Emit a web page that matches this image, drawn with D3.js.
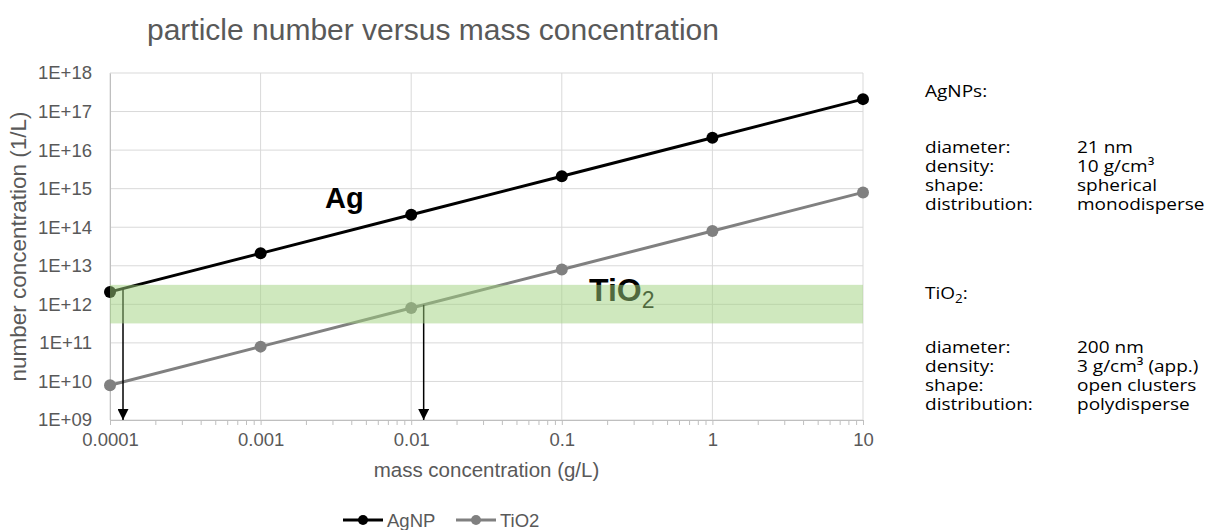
<!DOCTYPE html>
<html>
<head>
  <meta charset="utf-8">
  <style>
    body { margin: 0; background: #fff; }
    text { font-family: "Liberation Sans", Arial, sans-serif; }
    .info text { font-family: "Open Sans", sans-serif; font-size: 17px; fill: #000; }
  </style>
  <script src="https://cdn.jsdelivr.net/npm/d3@7"></script>
</head>
<body>
<script>
  // data
  var massConc = [0.0001, 0.001, 0.01, 0.1, 1, 10];
  var agnp = [2.1e12, 2.1e13, 2.1e14, 2.1e15, 2.1e16, 2.1e17];
  var tio2 = [8e9, 8e10, 8e11, 8e12, 8e13, 8e14];
  var yTicks = [1e9, 1e10, 1e11, 1e12, 1e13, 1e14, 1e15, 1e16, 1e17, 1e18];
  var band = [3.2e11, 3.2e12];
  var arrows = [{x: 1.22e-4, from: 2.5e12}, {x: 0.0121, from: 9.7e11}];
  var infoAg = [["diameter:", "21 nm"], ["density:", "10 g/cm\u00b3"], ["shape:", "spherical"], ["distribution:", "monodisperse"]];
  var infoTi = [["diameter:", "200 nm"], ["density:", "3 g/cm\u00b3 (app.)"], ["shape:", "open clusters"], ["distribution:", "polydisperse"]];

  var W = 1209, H = 530;
  var pLeft = 110, pRight = 863, pTop = 73, pBottom = 420;

  var svg = d3.select("body").append("svg").attr("width", W).attr("height", H);

  var x = d3.scaleLog().domain([1e-4, 10]).range([pLeft, pRight]);
  var y = d3.scaleLog().domain([1e9, 1e18]).range([pBottom, pTop]);

  // title
  svg.append("text").attr("x", 147).attr("y", 40)
    .attr("font-size", 30).attr("fill", "#595959")
    .text("particle number versus mass concentration");

  // gridlines
  svg.append("g").selectAll("line").data(yTicks).enter().append("line")
    .attr("x1", pLeft).attr("x2", pRight)
    .attr("y1", function(d) { return y(d); }).attr("y2", function(d) { return y(d); })
    .attr("stroke", "#d9d9d9").attr("stroke-width", 1);
  svg.append("g").selectAll("line").data(massConc).enter().append("line")
    .attr("y1", pTop).attr("y2", pBottom)
    .attr("x1", function(d) { return x(d); }).attr("x2", function(d) { return x(d); })
    .attr("stroke", "#d9d9d9").attr("stroke-width", 1);

  // x axis with minor log ticks
  var minor = [];
  massConc.slice(0, -1).forEach(function(d) {
    for (var k = 1; k <= 9; k++) minor.push(d * k);
  });
  minor.push(10);
  function isMajor(d) {
    return massConc.some(function(m) { return Math.abs(m - d) / m < 1e-9; });
  }
  var xAxis = svg.append("g").attr("transform", "translate(0," + pBottom + ")")
    .call(d3.axisBottom(x).tickValues(minor).tickSize(5).tickPadding(8)
      .tickFormat(function(d) { return isMajor(d) ? String(+d.toPrecision(1)) : ""; }));
  xAxis.select(".domain").attr("stroke", "#bfbfbf");
  xAxis.selectAll(".tick line").attr("stroke", "#bfbfbf");
  xAxis.selectAll(".tick text").attr("font-size", 18.5).attr("fill", "#595959");

  // y axis
  var yAxis = svg.append("g").attr("transform", "translate(" + pLeft + ",0)")
    .call(d3.axisLeft(y).tickValues(yTicks).tickSize(0).tickPadding(18)
      .tickFormat(function(d) { var e = Math.round(Math.log10(d)); return "1E+" + (e < 10 ? "0" + e : e); }));
  yAxis.select(".domain").attr("stroke", "#bfbfbf");
  yAxis.selectAll(".tick text").attr("font-size", 18.5).attr("fill", "#595959");

  // axis titles
  svg.append("text").attr("x", (pLeft + pRight) / 2).attr("y", 477)
    .attr("text-anchor", "middle").attr("font-size", 20.5).attr("fill", "#595959")
    .text("mass concentration (g/L)");
  svg.append("text").attr("transform", "translate(26," + (pTop + pBottom) / 2 + ") rotate(-90)")
    .attr("text-anchor", "middle").attr("font-size", 22.5).attr("fill", "#595959")
    .text("number concentration (1/L)");

  // series
  var line = d3.line().x(function(d) { return x(d[0]); }).y(function(d) { return y(d[1]); });
  var series = [
    {name: "AgNP", vals: agnp, color: "#000", w: 3},
    {name: "TiO2", vals: tio2, color: "#808080", w: 3}
  ];
  series.forEach(function(s) {
    var pts = d3.zip(massConc, s.vals);
    svg.append("path").datum(pts).attr("d", line)
      .attr("fill", "none").attr("stroke", s.color).attr("stroke-width", s.w);
    svg.append("g").selectAll("circle").data(pts).enter().append("circle")
      .attr("cx", function(d) { return x(d[0]); }).attr("cy", function(d) { return y(d[1]); })
      .attr("r", 6).attr("fill", s.color);
  });

  // arrows
  svg.append("defs").append("marker").attr("id", "head")
    .attr("viewBox", "0 0 10 10").attr("refX", 10).attr("refY", 5)
    .attr("markerWidth", 11).attr("markerHeight", 11).attr("markerUnits", "userSpaceOnUse")
    .attr("orient", "auto")
    .append("path").attr("d", "M0,0L10,5L0,10Z").attr("fill", "#000");
  svg.append("g").selectAll("line").data(arrows).enter().append("line")
    .attr("x1", function(d) { return x(d.x); }).attr("x2", function(d) { return x(d.x); })
    .attr("y1", function(d) { return y(d.from); }).attr("y2", pBottom)
    .attr("stroke", "#000").attr("stroke-width", 1.5).attr("marker-end", "url(#head)");

  // labels
  svg.append("text").attr("x", 325).attr("y", 208)
    .attr("font-size", 29).attr("font-weight", "bold").attr("fill", "#000").text("Ag");
  var tl = svg.append("text").attr("x", 589).attr("y", 301)
    .attr("font-size", 32).attr("font-weight", "bold").attr("fill", "#000");
  tl.append("tspan").text("TiO");
  tl.append("tspan").attr("font-size", 23).attr("font-weight", "normal").attr("dy", 7).text("2");

  // green band on top
  svg.append("rect").attr("x", pLeft).attr("width", pRight - pLeft)
    .attr("y", y(band[1])).attr("height", y(band[0]) - y(band[1]))
    .attr("fill", "rgb(160,210,125)").attr("fill-opacity", 0.5);

  // legend
  var leg = svg.append("g").attr("transform", "translate(343,520)");
  series.forEach(function(s, i) {
    var g = leg.append("g").attr("transform", "translate(" + (i * 113) + ",0)");
    g.append("line").attr("x1", 0).attr("x2", 40).attr("stroke", s.color).attr("stroke-width", s.w);
    g.append("circle").attr("cx", 20).attr("r", 5).attr("fill", s.color);
    g.append("text").attr("x", 44).attr("y", 6.5).attr("font-size", 18.5).attr("fill", "#595959").text(s.name);
  });

  // info panel (horizontally stretched like the reference)
  var sx = 1.12;
  var info = svg.append("g").attr("class", "info").attr("transform", "translate(925,0) scale(" + sx + ",1)");
  var valX = (1077 - 925) / sx;
  info.append("text").attr("x", 0).attr("y", 97).text("AgNPs:");
  infoAg.forEach(function(r, i) {
    info.append("text").attr("x", 0).attr("y", 153 + i * 19).text(r[0]);
    info.append("text").attr("x", valX).attr("y", 153 + i * 19).text(r[1]);
  });
  var th = info.append("text").attr("x", 0).attr("y", 299);
  th.append("tspan").text("TiO");
  th.append("tspan").attr("font-size", 12).attr("dy", 4).text("2");
  th.append("tspan").attr("dy", -4).text(":");
  infoTi.forEach(function(r, i) {
    info.append("text").attr("x", 0).attr("y", 353 + i * 19).text(r[0]);
    info.append("text").attr("x", valX).attr("y", 353 + i * 19).text(r[1]);
  });
</script>
</body>
</html>
